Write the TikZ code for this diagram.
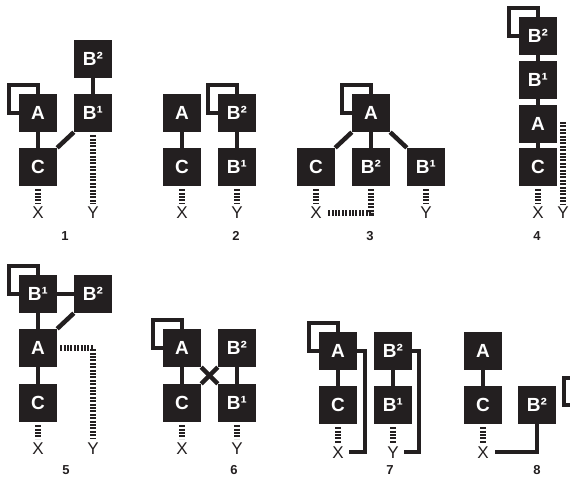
\documentclass[tikz,border=0pt]{standalone}
\usepackage{fontspec}
\setmainfont{Liberation Sans}
\usepackage{tikz}
\usetikzlibrary{positioning,calc,backgrounds}
\definecolor{cInk}{HTML}{231F20}
\newcommand{\boxfont}{\fontsize{19}{19}\selectfont\bfseries}
\newcommand{\xyfont}{\fontsize{17}{17}\selectfont}
\newcommand{\numfont}{\fontsize{13}{13}\selectfont\bfseries}
\tikzset{
  blk/.style={rectangle,fill=cInk,draw=none,text=white,minimum size=38pt,inner sep=0pt,font=\boxfont},
  xy/.style={inner sep=0pt,text=cInk,font=\xyfont,text height=12pt,text depth=0pt},
  num/.style={inner sep=0pt,text=cInk,font=\numfont},
  link/.style={line width=4.5pt,cInk},
  dots/.style={line width=5.5pt,cInk,dash pattern=on 2pt off 1.4pt},
  selfloop/.style={line width=4.2pt,cInk},
}

\begin{document}
\begin{tikzpicture}[x=1pt,y=-1pt]
  \clip (0,0) rectangle (570,478);
  % 1
  \node[blk] (Btwo1) at (93,59)  {B²};
  \node[blk] (Bone1) at (93,113) {B¹};
  \node[blk] (A1)    at (38,113) {A};
  \node[blk] (C1)    at (38,167) {C};
  \node[xy]  (X1)    at (38,213) {X};
  \node[xy]  (Y1)    at (93,213) {Y};
  \node[num] (n1)    at (65,236) {1};
  % 2
  \node[blk] (A2)    at (182,113) {A};
  \node[blk] (C2)    at (182,167) {C};
  \node[blk] (Btwo2) at (237,113) {B²};
  \node[blk] (Bone2) at (237,167) {B¹};
  \node[xy]  (X2)    at (182,213) {X};
  \node[xy]  (Y2)    at (237,213) {Y};
  \node[num] (n2)    at (236,236) {2};
  % 3
  \node[blk] (A3)    at (371,113) {A};
  \node[blk] (C3)    at (316,167) {C};
  \node[blk] (Btwo3) at (371,167) {B²};
  \node[blk] (Bone3) at (426,167) {B¹};
  \node[xy]  (X3)    at (316,213) {X};
  \node[xy]  (Y3)    at (426,213) {Y};
  \node[num] (n3)    at (370,236) {3};
  % 4
  \node[blk] (Btwo4) at (538,36)  {B²};
  \node[blk] (Bone4) at (538,80)  {B¹};
  \node[blk] (A4)    at (538,124) {A};
  \node[blk] (C4)    at (538,167) {C};
  \node[xy]  (X4)    at (538,213) {X};
  \node[xy]  (Y4)    at (563,213) {Y};
  \node[num] (n4)    at (537,236) {4};
  \coordinate (ytop4) at (563,122);
  % 5
  \node[blk] (Bone5) at (38,294) {B¹};
  \node[blk] (Btwo5) at (93,294) {B²};
  \node[blk] (A5)    at (38,348) {A};
  \node[blk] (C5)    at (38,403) {C};
  \node[xy]  (X5)    at (38,448) {X};
  \node[xy]  (Y5)    at (93,448) {Y};
  \node[num] (n5)    at (66,470) {5};
  % 6
  \node[blk] (A6)    at (182,348) {A};
  \node[blk] (Btwo6) at (237,348) {B²};
  \node[blk] (C6)    at (182,403) {C};
  \node[blk] (Bone6) at (237,403) {B¹};
  \node[xy]  (X6)    at (182,448) {X};
  \node[xy]  (Y6)    at (237,448) {Y};
  \node[num] (n6)    at (234,470) {6};
  % 7
  \node[blk] (A7)    at (338,351) {A};
  \node[blk] (C7)    at (338,405) {C};
  \node[blk] (Btwo7) at (393,351) {B²};
  \node[blk] (Bone7) at (393,405) {B¹};
  \node[xy]  (X7)    at (338,452) {X};
  \node[xy]  (Y7)    at (393,452) {Y};
  \node[num] (n7)    at (390,470) {7};
  % 8
  \node[blk] (A8)    at (483,351) {A};
  \node[blk] (C8)    at (483,405) {C};
  \node[blk] (Btwo8) at (537,405) {B²};
  \node[xy]  (X8)    at (483,452) {X};
  \node[num] (n8)    at (537,470) {8};

  % solid links
  \foreach \a/\b in {A1/C1,Bone1/Btwo1,A2/C2,Btwo2/Bone2,A3/Btwo3,Btwo4/Bone4,Bone4/A4,A4/C4,
                     Bone5/Btwo5,Bone5/A5,A5/C5,A6/C6,Btwo6/Bone6,A7/C7,Btwo7/Bone7,A8/C8}
    \draw[link] (\a)--(\b);
  \foreach \a/\b in {C1.north east/Bone1.south west,A3.south west/C3.north east,A3.south east/Bone3.north west,
                     Btwo5.south west/A5.north east,A6.south east/Bone6.north west,Btwo6.south west/C6.north east}
    \draw[link] (\a)--(\b);
  \draw[link] (A7.east) -- ++(8,0) |- ([xshift=5pt]X7.east);
  \draw[link] (Btwo7.east) -- ++(7,0) |- ([xshift=5pt]Y7.east);
  \draw[link] (Btwo8.south) |- ([xshift=6pt]X8.east);

  % dotted links
  \foreach \a/\b in {C1/X1,Bone1/Y1,C2/X2,Bone2/Y2,C3/X3,Bone3/Y3,C4/X4,C5/X5,C6/X6,Bone6/Y6,C7/X7,Bone7/Y7,C8/X8}
    \draw[dots] ([yshift=-3pt]\a.south) -- ([yshift=3pt]\b.north);
  \draw[dots] ([yshift=-3pt]Btwo3.south) |- ([xshift=5pt]X3.east);
  \draw[dots] (ytop4) -- ([yshift=3pt]Y4.north);
  \draw[dots] ([xshift=3pt]A5.east) -| ([yshift=3pt]Y5.north);

  % self loops
  \begin{scope}[on background layer]
    \foreach \b in {A1,Btwo2,A3,Btwo4,Bone5,A6,A7}
      \draw[selfloop] (\b.center) rectangle ++(-29,-28);
  \end{scope}
  \draw[selfloop] (564,378) rectangle (600,405);
\end{tikzpicture}
\end{document}
